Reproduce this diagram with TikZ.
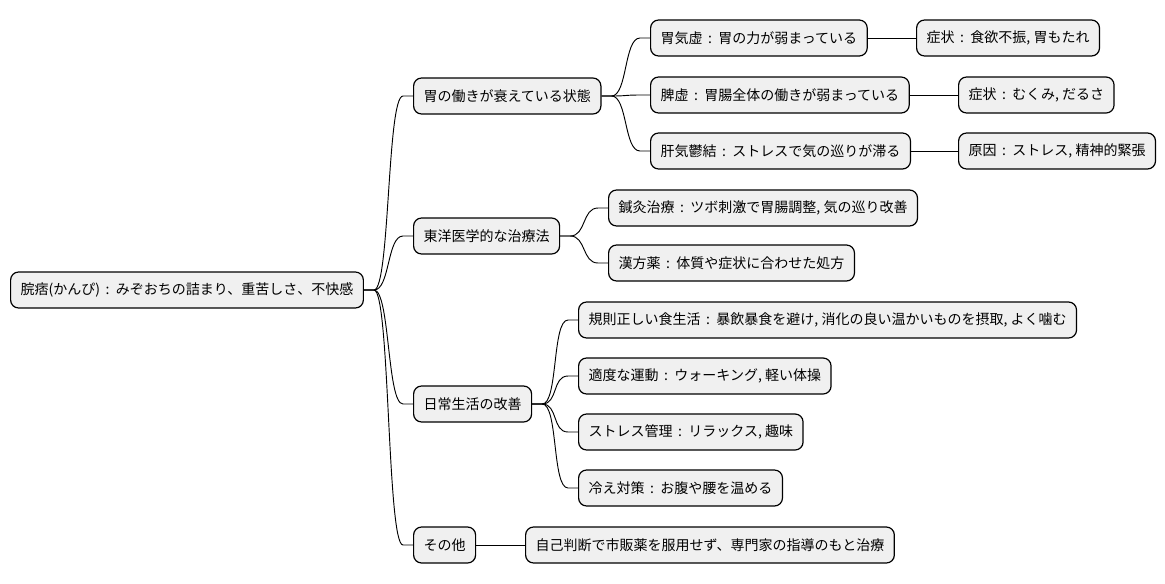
\documentclass[tikz,border=0pt]{standalone}
\usepackage{fontspec}
\setmainfont{Noto Sans CJK JP}
\usetikzlibrary{calc}
\newcommand{\branch}[2]{\draw[link] (#1.east) -- ++(10,0) .. controls +(16,0) and +(-16,0) .. ($(#2.west)+(-10,0)$) -- (#2.west);}
\begin{document}
\begin{tikzpicture}[x=0.75pt,y=-0.75pt,
    topic/.style={draw=black, line width=0.9pt, fill=gray!12, rounded corners=6pt,
        minimum height=27pt, inner xsep=7.5pt, anchor=west, font=\fontsize{10.5pt}{12pt}\selectfont},
    link/.style={line width=0.7pt}]
    \useasboundingbox (0,0) rectangle (1165,583);
    \node[topic] (root) at (10,290) {脘痞(かんぴ)\, : \,みぞおちの詰まり、重苦しさ、不快感};
    \node[topic] (weak) at (413,96) {胃の働きが衰えている状態};
    \node[topic] (east) at (413,236) {東洋医学的な治療法};
    \node[topic] (life) at (413,404) {日常生活の改善};
    \node[topic] (other) at (413,545) {その他};
    \node[topic] (kikyo) at (650,38) {胃気虚\, : \,胃の力が弱まっている};
    \node[topic] (hikyo) at (650,95) {脾虚\, : \,胃腸全体の働きが弱まっている};
    \node[topic] (kanki) at (650,151) {肝気鬱結\, : \,ストレスで気の巡りが滞る};
    \node[topic] (sym1) at (916,38) {症状\, : \,食欲不振, 胃もたれ};
    \node[topic] (sym2) at (958,95) {症状\, : \,むくみ, だるさ};
    \node[topic] (cause) at (958,151) {原因\, : \,ストレス, 精神的緊張};
    \node[topic] (shinkyu) at (608,208) {鍼灸治療\, : \,ツボ刺激で胃腸調整, 気の巡り改善};
    \node[topic] (kampo) at (608,263) {漢方薬\, : \,体質や症状に合わせた処方};
    \node[topic] (diet) at (578,320) {規則正しい食生活\, : \,暴飲暴食を避け, 消化の良い温かいものを摂取, よく噛む};
    \node[topic] (exercise) at (578,376) {適度な運動\, : \,ウォーキング, 軽い体操};
    \node[topic] (stress) at (578,432) {ストレス管理\, : \,リラックス, 趣味};
    \node[topic] (cold) at (578,488) {冷え対策\, : \,お腹や腰を温める};
    \node[topic] (doctor) at (525,545) {自己判断で市販薬を服用せず、専門家の指導のもと治療};
    \foreach \c in {weak,east,life,other} {\branch{root}{\c}}
    \foreach \c in {kikyo,hikyo,kanki} {\branch{weak}{\c}}
    \foreach \c in {shinkyu,kampo} {\branch{east}{\c}}
    \foreach \c in {diet,exercise,stress,cold} {\branch{life}{\c}}
    \draw[link] (other) -- (doctor);
    \draw[link] (kikyo) -- (sym1);
    \draw[link] (hikyo) -- (sym2);
    \draw[link] (kanki) -- (cause);
\end{tikzpicture}
\end{document}
